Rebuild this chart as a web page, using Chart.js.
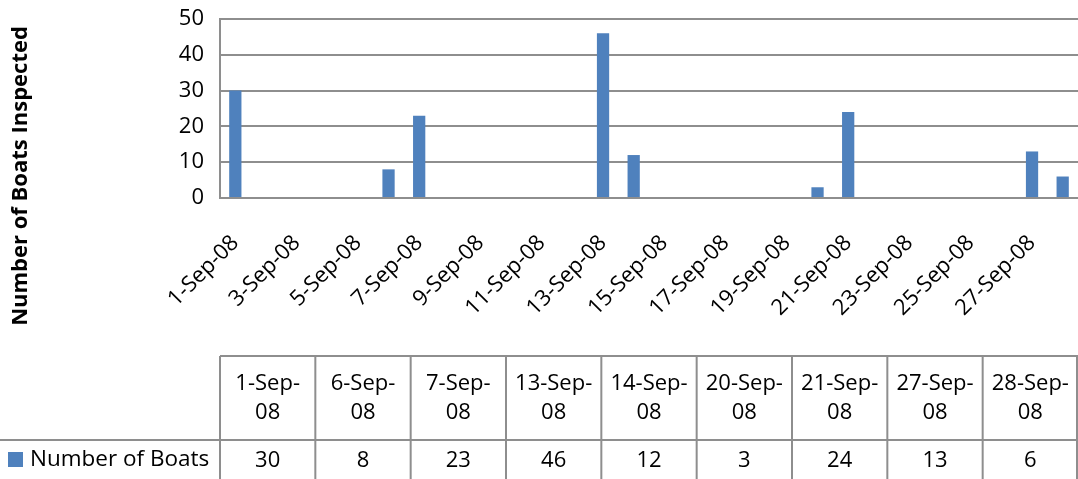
<!DOCTYPE html>
<html><head><meta charset="utf-8">
<script src="https://cdn.jsdelivr.net/npm/chart.js@4"></script>
<style>html,body{margin:0;padding:0;background:#fff;overflow:hidden}</style>
</head><body>
<canvas id="c" width="1078" height="479"></canvas>
<script>
const seriesName = 'Number of Boats';
const axisTitle = 'Number of Boats Inspected';
const inspectionDates = ['1-Sep-08','6-Sep-08','7-Sep-08','13-Sep-08','14-Sep-08','20-Sep-08','21-Sep-08','27-Sep-08','28-Sep-08'];
const boatCounts = [30, 8, 23, 46, 12, 3, 24, 13, 6];
const dayLabels = ['1-Sep-08','2-Sep-08','3-Sep-08','4-Sep-08','5-Sep-08','6-Sep-08','7-Sep-08','8-Sep-08','9-Sep-08','10-Sep-08',
  '11-Sep-08','12-Sep-08','13-Sep-08','14-Sep-08','15-Sep-08','16-Sep-08','17-Sep-08','18-Sep-08','19-Sep-08','20-Sep-08',
  '21-Sep-08','22-Sep-08','23-Sep-08','24-Sep-08','25-Sep-08','26-Sep-08','27-Sep-08','28-Sep-08'];
const yTicks = [0, 10, 20, 30, 40, 50];

const barColor = '#4F81BD';
const lineColor = '#8E8E8E';
const FONT = "'Open Sans', 'DejaVu Sans', sans-serif";

const fullData = dayLabels.map(l => {
  const i = inspectionDates.indexOf(l);
  return i >= 0 ? boatCounts[i] : null;
});

const extrasPlugin = {
  id: 'extras',
  afterDraw(chart) {
    const ctx = chart.ctx;
    const area = chart.chartArea;
    ctx.save();
    // y axis title
    ctx.save();
    ctx.translate(21, 176);
    ctx.rotate(-Math.PI / 2);
    ctx.font = 'bold 22px ' + FONT;
    ctx.fillStyle = '#000';
    ctx.textAlign = 'center';
    ctx.textBaseline = 'middle';
    ctx.fillText(axisTitle, 0, 0);
    ctx.restore();

    // data table
    const left = area.left, right = chart.width;
    const top = 356, mid = 440, bottom = chart.height;
    const n = inspectionDates.length;
    const colW = (right - left) / n;
    ctx.strokeStyle = lineColor;
    ctx.lineWidth = 2;
    ctx.beginPath();
    ctx.moveTo(left, top); ctx.lineTo(right, top);
    ctx.moveTo(0, mid); ctx.lineTo(right, mid);
    for (let i = 0; i <= n; i++) {
      let x = left + i * colW;
      if (i === n) x = right - 1;
      ctx.moveTo(x, top); ctx.lineTo(x, bottom);
    }
    ctx.stroke();

    ctx.fillStyle = '#000';
    ctx.font = '22px ' + FONT;
    ctx.textAlign = 'center';
    ctx.textBaseline = 'middle';
    for (let i = 0; i < n; i++) {
      const cx = left + (i + 0.5) * colW;
      const lbl = inspectionDates[i];
      const k = lbl.lastIndexOf('-');
      ctx.fillText(lbl.slice(0, k + 1), cx, 384);
      ctx.fillText(lbl.slice(k + 1), cx, 413);
      ctx.fillText(String(boatCounts[i]), cx, 461);
    }
    // legend key
    ctx.fillStyle = barColor;
    ctx.fillRect(8, 452, 15, 15);
    ctx.fillStyle = '#000';
    ctx.textAlign = 'left';
    ctx.font = '22.5px ' + FONT;
    ctx.fillText(seriesName, 30, 460);
    ctx.restore();
  }
};

new Chart(document.getElementById('c'), {
  type: 'bar',
  data: {
    labels: dayLabels,
    datasets: [{
      label: seriesName,
      data: fullData,
      backgroundColor: barColor,
      borderWidth: 0,
      categoryPercentage: 1,
      barPercentage: 0.4
    }]
  },
  options: {
    responsive: false,
    animation: false,
    devicePixelRatio: 1,
    layout: { padding: { top: 19, right: 0, left: 0, bottom: 0 } },
    plugins: { legend: { display: false }, tooltip: { enabled: false } },
    scales: {
      x: {
        type: 'category',
        offset: true,
        grid: { display: false },
        border: { display: true, color: lineColor, width: 2 },
        ticks: {
          autoSkip: false,
          maxRotation: 45,
          minRotation: 45,
          padding: 24,
          color: '#000',
          font: { family: FONT, size: 22 },
          callback: (v, i) => (i % 2 === 0 ? dayLabels[i] : '')
        },
        afterFit: s => { s.height = 281; s.paddingLeft = 0; s.paddingRight = 0; }
      },
      y: {
        min: yTicks[0],
        max: yTicks[yTicks.length - 1],
        afterBuildTicks: s => { s.ticks = yTicks.map(v => ({ value: v })); },
        grid: { color: lineColor, lineWidth: 2, drawTicks: false },
        border: { display: true, color: lineColor, width: 2 },
        ticks: {
          padding: 16,
          color: '#000',
          font: { family: FONT, size: 22 }
        },
        afterFit: s => { s.width = 220; s.paddingTop = 0; s.paddingBottom = 0; }
      }
    }
  },
  plugins: [extrasPlugin]
});
</script>
</body></html>
